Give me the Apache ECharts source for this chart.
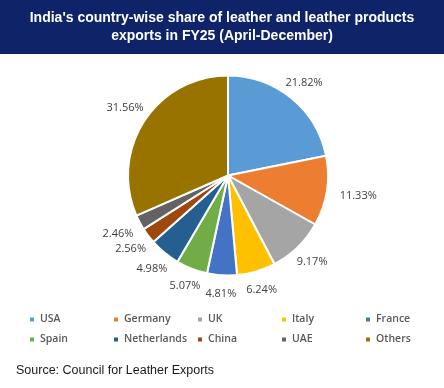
<!DOCTYPE html>
<html>
<head>
<meta charset="utf-8">
<script src="https://cdn.jsdelivr.net/npm/echarts@6/dist/echarts.min.js"></script>
<style>
html,body{margin:0;padding:0;background:#fff;}
#main{width:444px;height:388px;}
</style>
</head>
<body>
<div id="main"></div>
<script>
var titleLines = ["India's country-wise share of leather and leather products", "exports in FY25 (April-December)"];
var sourceText = "Source: Council for Leather Exports";
var countries = ["USA", "Germany", "UK", "Italy", "France", "Spain", "Netherlands", "China", "UAE", "Others"];
var shares = [21.82, 11.33, 9.17, 6.24, 4.81, 5.07, 4.98, 2.56, 2.46, 31.56];
var colors = ["#5B9BD5", "#ED7D31", "#A5A5A5", "#FFC000", "#4472C4", "#70AD47", "#255E91", "#9E480E", "#636363", "#997300"];

var chart = echarts.init(document.getElementById('main'), null, {renderer: 'canvas'});

var pieData = countries.map(function (c, i) {
  return {name: c, value: shares[i], itemStyle: {color: colors[i]}};
});

function legendFor(names, top) {
  return {
    data: names,
    left: 28,
    top: top,
    width: 430,
    padding: 0,
    orient: 'horizontal',
    itemWidth: 6,
    itemHeight: 6,
    itemGap: 0,
    icon: 'rect',
    selectedMode: false,
    formatter: '{a|{name}}',
    textStyle: {
      fontFamily: 'Open Sans',
      fontSize: 10.5,
      fontWeight: 600,
      color: '#595959',
      rich: {a: {width: 72, fontFamily: 'Open Sans', fontSize: 10.5, fontWeight: 600, color: '#595959', lineHeight: 14}}
    }
  };
}

var option = {
  animation: false,
  backgroundColor: '#ffffff',
  graphic: [
    {type: 'rect', left: 0, top: 0, shape: {width: 444, height: 54}, style: {fill: '#0E2368'}, z: 0},
    {type: 'text', left: 16, top: 364, style: {text: sourceText, fontFamily: 'Liberation Sans, Arial', fontSize: 12.5, fill: '#1a1a1a'}}
  ],
  title: {
    text: titleLines.join('\n'),
    left: 222,
    top: 9,
    padding: 0,
    textAlign: 'center',
    textStyle: {
      fontFamily: 'Liberation Sans, Arial',
      fontSize: 14,
      fontWeight: 'bold',
      color: '#ffffff',
      lineHeight: 18
    },
    z: 10
  },
  legend: [legendFor(countries.slice(0, 5), 314), legendFor(countries.slice(5), 334)],
  series: [{
    type: 'pie',
    center: [228, 175.5],
    radius: [0, 100],
    startAngle: 90,
    clockwise: true,
    data: pieData,
    itemStyle: {borderColor: '#ffffff', borderWidth: 2},
    label: {
      show: true,
      position: 'outside',
      fontFamily: 'Open Sans',
      fontSize: 11,
      color: '#404040',
      formatter: function (p) { return p.value.toFixed(2) + '%'; }
    },
    labelLine: {show: false, length: 8, length2: 0},
    emphasis: {disabled: true},
    labelLayout: function (p) {
      var data = chart.getModel().getSeriesByIndex(0).getData();
      var lay = data.getItemLayout(p.dataIndex);
      if (!lay) return {};
      var mid = (lay.startAngle + lay.endAngle) / 2;
      var dx = Math.cos(mid), dy = Math.sin(mid);
      var w = p.labelRect.width, h = p.labelRect.height;
      var t = Math.min(Math.abs(dx) > 1e-6 ? w / 2 / Math.abs(dx) : 1e9, Math.abs(dy) > 1e-6 ? h / 2 / Math.abs(dy) : 1e9);
      var d = lay.r + 13 + t;
      return {x: lay.cx + d * dx, y: lay.cy + d * dy, align: 'center', verticalAlign: 'middle'};
    }
  }]
};
chart.setOption(option);
</script>
</body>
</html>
